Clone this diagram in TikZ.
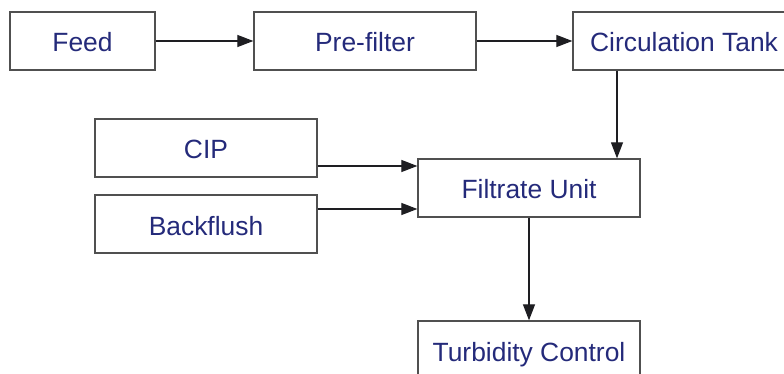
\documentclass[tikz,border=0pt]{standalone}
\usepackage{fontspec}
\setmainfont{Liberation Sans}
\usetikzlibrary{arrows.meta}
\definecolor{txtblue}{RGB}{36,42,122}
\definecolor{boxgray}{RGB}{80,80,80}
\definecolor{arrdark}{RGB}{30,30,34}
\tikzset{
  stepbox/.style={draw=boxgray, line width=1.3pt, minimum width=222pt, minimum height=58pt,
    inner sep=0pt, text height=22pt, text depth=0pt,
    text=txtblue, font=\fontsize{26.4}{30}\selectfont, anchor=center},
  arr/.style={draw=arrdark, line width=1.2pt, -{Triangle[length=16pt,width=12pt]}}
}
\begin{document}
\begin{tikzpicture}[x=1pt,y=-1pt]
\useasboundingbox (0,0) rectangle (784,374);
\clip (0,0) rectangle (784,374);
\node[stepbox, minimum width=145pt] (feed) at (82.5,41) {Feed};
\node[stepbox] (pre) at (365,41) {Pre-filter};
\node[stepbox] (circ) at (684,41) {Circulation Tank};
\node[stepbox] (cip) at (206,148) {CIP};
\node[stepbox] (back) at (206,224) {Backflush};
\node[stepbox] (fu) at (529,188) {Filtrate Unit};
\node[stepbox] (turb) at (529,350) {Turbidity Control};
\draw[arr] (feed.east) -- (pre.west);
\draw[arr] (pre.east) -- (circ.west);
\coordinate (c3) at ([xshift=-67pt]circ.south);
\draw[arr] (c3) -- (c3 |- fu.north);
\coordinate (c1) at ([yshift=-18pt]cip.east);
\draw[arr] (c1) -- (c1 -| fu.west);
\coordinate (c2) at ([yshift=15pt]back.east);
\draw[arr] (c2) -- (c2 -| fu.west);
\draw[arr] (fu.south) -- (turb.north);
\end{tikzpicture}
\end{document}
